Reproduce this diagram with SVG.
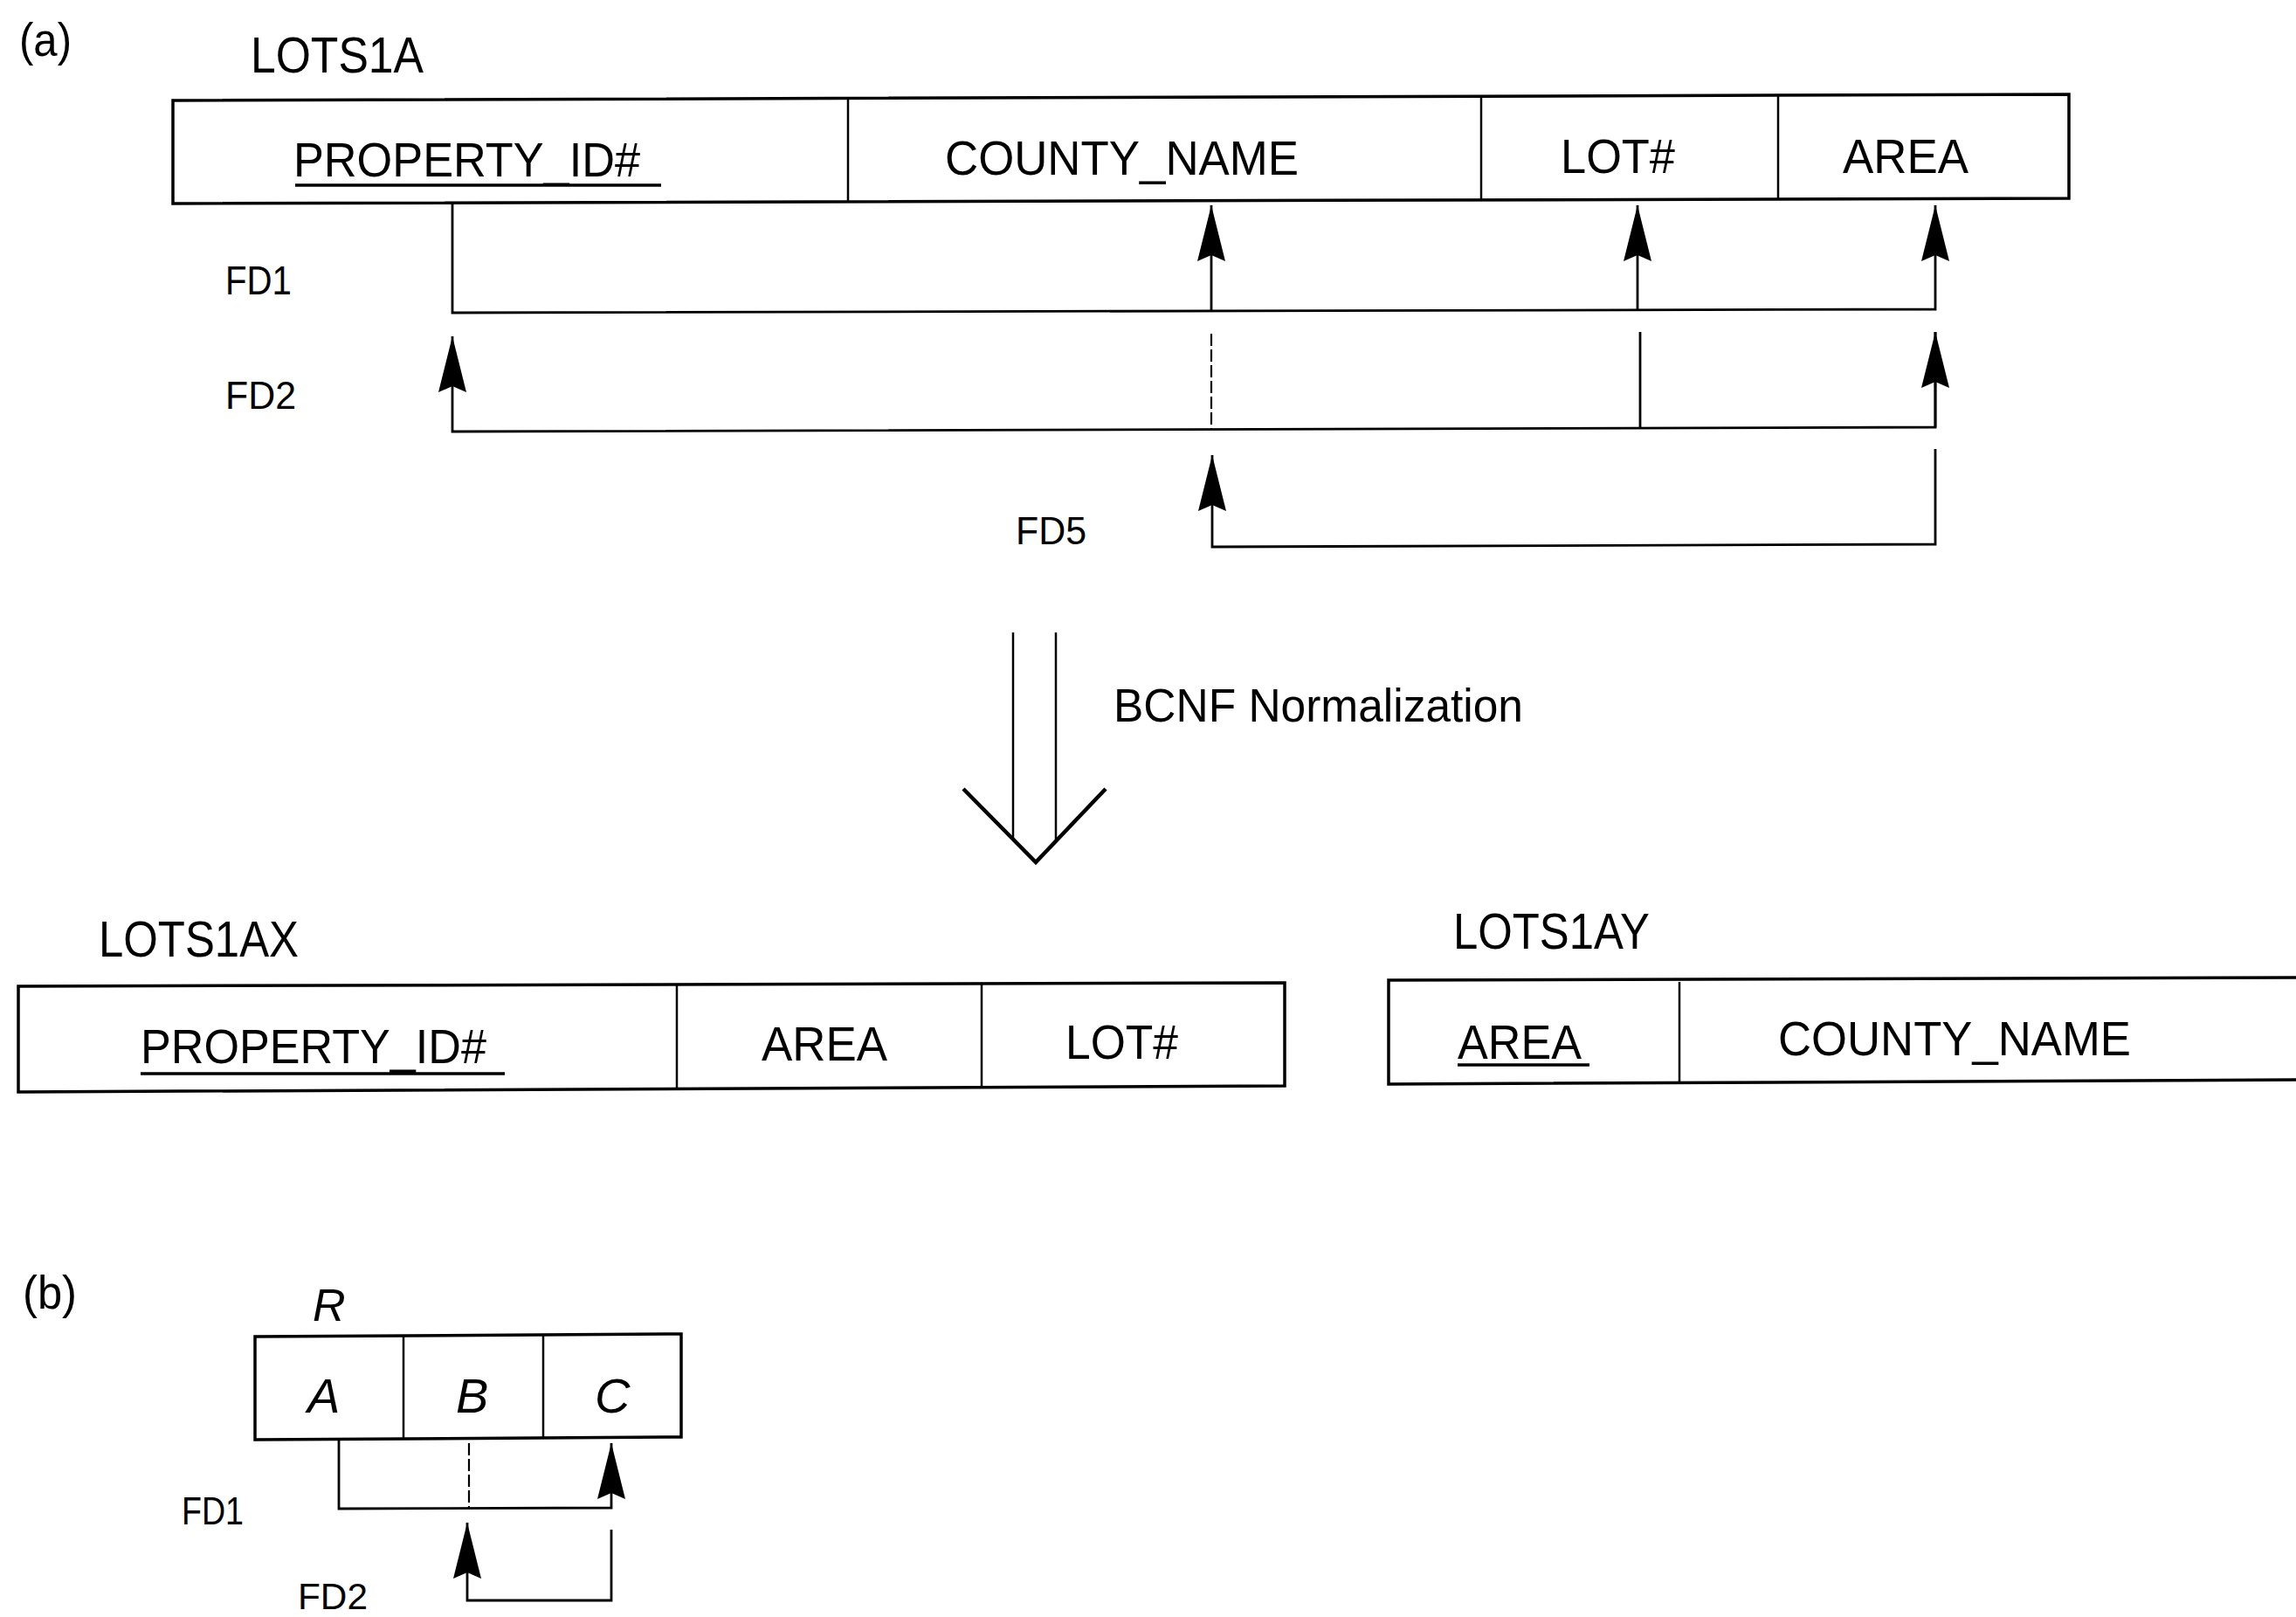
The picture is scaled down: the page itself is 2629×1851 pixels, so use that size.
<svg xmlns="http://www.w3.org/2000/svg" xmlns:xlink="http://www.w3.org/1999/xlink" width="2629" height="1851" viewBox="0 0 2629 1851">
<style>
  .t { font-family: "Liberation Sans", Arial, sans-serif; fill: #000; }
  .i { font-family: "Liberation Sans", Arial, sans-serif; font-style: italic; fill: #000; }
  .box { fill: none; stroke: #000; stroke-width: 3.5; stroke-linejoin: miter; }
  .div { fill: none; stroke: #000; stroke-width: 2.5; }
  .ul { stroke: #000; stroke-width: 3.5; }
  .c { fill: none; stroke: #000; stroke-width: 2.8; }
  .cd { fill: none; stroke: #000; stroke-width: 2.2; stroke-dasharray: 14 4; }
  .big { fill: none; stroke: #000; stroke-width: 2.5; }
  .vee { fill: none; stroke: #000; stroke-width: 4.5; stroke-linejoin: miter; }
</style>
<defs>
  <marker id="ah" markerUnits="userSpaceOnUse" viewBox="0 -17 64 34" refX="64" refY="0" markerWidth="64" markerHeight="34" orient="auto">
    <path d="M0,-16 L64,0 L0,16 L7,0 Z" fill="#000"/>
  </marker>
</defs>

<!-- labels -->
<text class="t" x="22" y="64" font-size="54" textLength="60" lengthAdjust="spacingAndGlyphs">(a)</text>
<text class="t" x="26" y="1498" font-size="54" textLength="62" lengthAdjust="spacingAndGlyphs">(b)</text>

<!-- LOTS1A -->
<g id="lots1a">
  <text class="t" x="287" y="83" font-size="57" textLength="198" lengthAdjust="spacingAndGlyphs">LOTS1A</text>
  <polygon class="box" points="198,115 2369,108 2369,227 198,233"/>
  <line class="div" x1="971" y1="113" x2="971" y2="231"/>
  <line class="div" x1="1696" y1="111" x2="1696" y2="229"/>
  <line class="div" x1="2036" y1="110" x2="2036" y2="228"/>
  <text class="t" x="336" y="202" font-size="56" textLength="397" lengthAdjust="spacingAndGlyphs">PROPERTY_ID#</text>
  <line class="ul" x1="338" y1="212" x2="757" y2="212"/>
  <text class="t" x="1082" y="200" font-size="56" textLength="405" lengthAdjust="spacingAndGlyphs">COUNTY_NAME</text>
  <text class="t" x="1787" y="198" font-size="56" textLength="131" lengthAdjust="spacingAndGlyphs">LOT#</text>
  <text class="t" x="2110" y="198" font-size="56" textLength="144" lengthAdjust="spacingAndGlyphs">AREA</text>
</g>

<!-- FD labels (a) -->
<text class="t" x="258" y="337" font-size="46" textLength="76" lengthAdjust="spacingAndGlyphs">FD1</text>
<text class="t" x="258" y="468" font-size="44" textLength="81" lengthAdjust="spacingAndGlyphs">FD2</text>
<text class="t" x="1163" y="623" font-size="45" textLength="81" lengthAdjust="spacingAndGlyphs">FD5</text>

<!-- BCNF arrow -->
<g id="bcnf">
  <line class="big" x1="1160" y1="724" x2="1160" y2="961"/>
  <line class="big" x1="1209" y1="724" x2="1209" y2="963"/>
  <polyline class="vee" points="1103,903 1186,987 1266,903"/>
  <text class="t" x="1275" y="826" font-size="54" textLength="469" lengthAdjust="spacingAndGlyphs">BCNF Normalization</text>
</g>

<!-- LOTS1AX -->
<g id="lots1ax">
  <text class="t" x="113" y="1095" font-size="58" textLength="229" lengthAdjust="spacingAndGlyphs">LOTS1AX</text>
  <polygon class="box" points="21,1129 1471,1125 1471,1243 21,1250"/>
  <line class="div" x1="775" y1="1127" x2="775" y2="1247"/>
  <line class="div" x1="1124" y1="1126" x2="1124" y2="1245"/>
  <text class="t" x="161" y="1217" font-size="56" textLength="396" lengthAdjust="spacingAndGlyphs">PROPERTY_ID#</text>
  <line class="ul" x1="161" y1="1229" x2="578" y2="1229"/>
  <text class="t" x="872" y="1214" font-size="56" textLength="144" lengthAdjust="spacingAndGlyphs">AREA</text>
  <text class="t" x="1220" y="1212" font-size="56" textLength="129" lengthAdjust="spacingAndGlyphs">LOT#</text>
</g>

<!-- LOTS1AY -->
<g id="lots1ay">
  <text class="t" x="1664" y="1086" font-size="57" textLength="225" lengthAdjust="spacingAndGlyphs">LOTS1AY</text>
  <polyline class="box" points="2640,1119 1590,1122 1590,1241 2640,1236"/>
  <line class="div" x1="1923" y1="1124" x2="1923" y2="1239"/>
  <text class="t" x="1669" y="1212" font-size="56" textLength="142" lengthAdjust="spacingAndGlyphs">AREA</text>
  <line class="ul" x1="1669" y1="1219" x2="1820" y2="1219"/>
  <text class="t" x="2036" y="1208" font-size="56" textLength="404" lengthAdjust="spacingAndGlyphs">COUNTY_NAME</text>
</g>

<!-- R (b) -->
<g id="r">
  <text class="i" x="358" y="1512" font-size="52">R</text>
  <polygon class="box" points="292,1530 780,1527 780,1645 292,1648"/>
  <line class="div" x1="462" y1="1530" x2="462" y2="1647"/>
  <line class="div" x1="622" y1="1529" x2="622" y2="1646"/>
  <text class="i" x="352" y="1617" font-size="56">A</text>
  <text class="i" x="522" y="1617" font-size="56">B</text>
  <text class="i" x="681" y="1617" font-size="56">C</text>
</g>
<text class="t" x="208" y="1745" font-size="45" textLength="71" lengthAdjust="spacingAndGlyphs">FD1</text>
<text class="t" x="341" y="1842" font-size="42" textLength="80" lengthAdjust="spacingAndGlyphs">FD2</text>

<!-- connectors -->
<g id="connectors">
  <!-- FD1 (a) -->
  <path class="c" d="M518,233 L518,358 L2216,354 L2216,235" marker-end="url(#ah)"/>
  <path class="c" d="M1387,357 L1387,235" marker-end="url(#ah)"/>
  <path class="c" d="M1875,356 L1875,235" marker-end="url(#ah)"/>
  <!-- FD2 (a) -->
  <path class="c" d="M2216,380 L2216,489 L518,494 L518,385" marker-end="url(#ah)"/>
  <line class="cd" x1="1387" y1="382" x2="1387" y2="492"/>
  <line class="c" x1="1878" y1="380" x2="1878" y2="490"/>
  <path class="c" d="M2216,489 L2216,380" marker-end="url(#ah)"/>
  <!-- FD5 (a) -->
  <path class="c" d="M2216,514 L2216,623 L1388,626 L1388,521" marker-end="url(#ah)"/>
  <!-- FD1 (b) -->
  <path class="c" d="M388,1648 L388,1727 L700,1726 L700,1652" marker-end="url(#ah)"/>
  <line class="cd" x1="537" y1="1652" x2="537" y2="1727"/>
  <!-- FD2 (b) -->
  <path class="c" d="M700,1751 L700,1832 L535,1832 L535,1743" marker-end="url(#ah)"/>
</g>
</svg>
